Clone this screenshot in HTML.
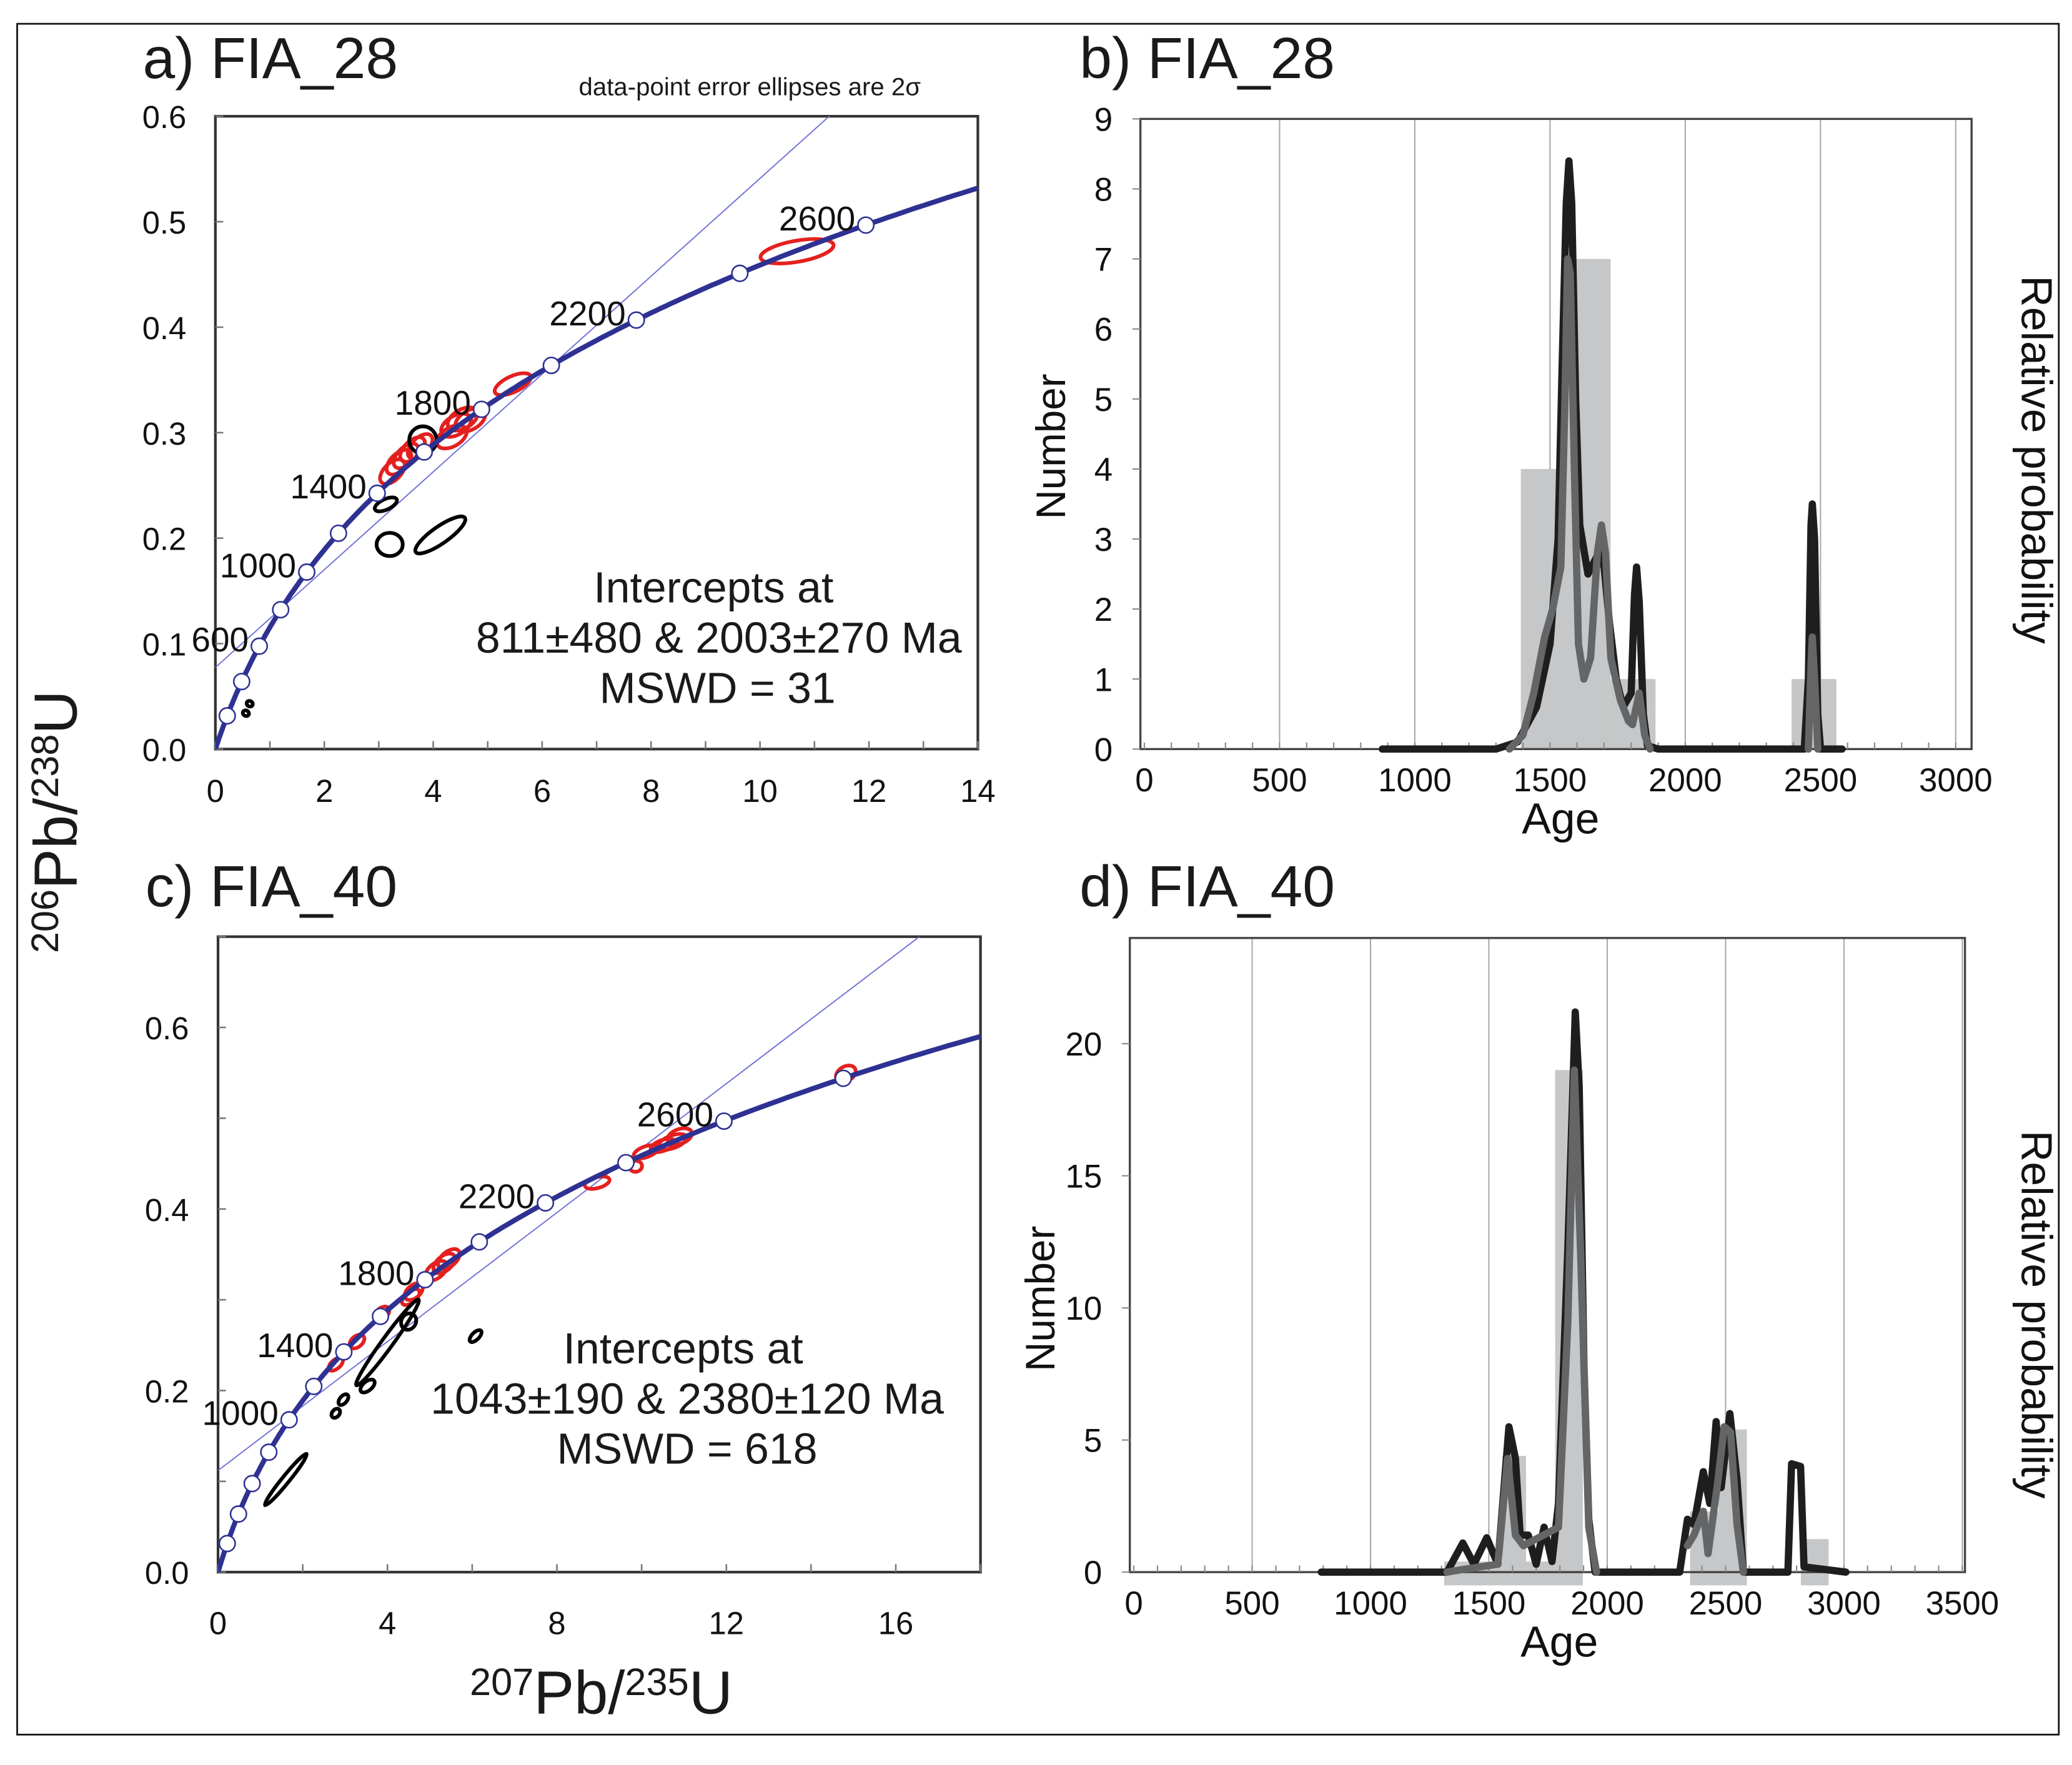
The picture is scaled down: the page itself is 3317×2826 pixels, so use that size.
<!DOCTYPE html>
<html><head><meta charset="utf-8">
<style>
html,body{margin:0;padding:0;background:#fff;}
svg{display:block;font-family:"Liberation Sans",sans-serif;}
</style></head>
<body>
<svg id="fig" xmlns="http://www.w3.org/2000/svg" width="3317" height="2826" viewBox="0 0 1568 1336" preserveAspectRatio="none">
<rect x="13" y="18" width="1545" height="1295" fill="#fff" stroke="#111" stroke-width="1.3"/>
<g id="layer"></g>
</svg>
<script>
// ---------- DATA ----------
const markerAgesA = [200,400,600,800,1000,1200,1400,1600,1800,2000,2200,2400,2600];
const markerAgesC = [200,400,600,800,1000,1200,1400,1600,1800,2000,2200,2400,2600,2800];
const labelAgesA = [600,1000,1400,1800,2200,2600];
const labelAgesC = [1000,1400,1800,2200,2600];
const interceptsA = [811,2003];
const interceptsC = [1043,2380];
const ellAx = [10.68,5.46,4.42,4.54,4.34,4.68,3.25,3.37,3.50,3.62,3.76,3.81,3.13,3.20,4.13,0.63,0.56];
const ellAy = [0.472,0.346,0.307,0.313,0.296,0.312,0.263,0.272,0.278,0.284,0.287,0.293,0.232,0.194,0.203,0.043,0.034];
const ellAex = [0.68,0.36,0.30,0.30,0.30,0.30,0.28,0.28,0.28,0.28,0.28,0.25,0.22,0.24,0.55,0.05,0.05];
const ellAey = [0.010,0.0075,0.009,0.009,0.009,0.009,0.008,0.008,0.008,0.008,0.008,0.013,0.005,0.011,0.008,0.003,0.003];
const ellArot = [-10,-25,-30,-30,-30,-30,-45,-45,-45,-45,-45,0,-25,0,-35,-60,-60];
const ellAcol = ['r','r','r','r','r','r','r','r','r','r','r','k','k','k','k','k','k'];
const ellCx = [14.82,10.73,10.9,10.5,10.1,9.86,8.95,5.34,5.45,5.15,4.62,4.55,3.87,3.28,2.78,4.0,4.5,3.53,2.96,2.78,6.08,1.6];
const ellCy = [0.549,0.474,0.48,0.47,0.463,0.447,0.429,0.34,0.345,0.332,0.309,0.303,0.285,0.254,0.229,0.253,0.276,0.205,0.19,0.175,0.26,0.102];
const ellCex = [0.25,0.35,0.3,0.3,0.3,0.15,0.3,0.3,0.3,0.3,0.25,0.25,0.2,0.2,0.2,1.25,0.2,0.2,0.15,0.12,0.18,0.78];
const ellCey = [0.008,0.007,0.008,0.006,0.006,0.006,0.006,0.008,0.008,0.008,0.007,0.006,0.006,0.006,0.005,0.006,0.008,0.005,0.004,0.004,0.004,0.004];
const ellCrot = [-30,-20,-20,-20,-20,-10,-15,-40,-40,-40,-40,-40,-40,-40,-40,-54,-60,-40,-50,-50,-45,-51];
const ellCcol = ['r','r','r','r','r','r','r','r','r','r','r','r','r','r','r','k','k','k','k','k','k','k'];
const binStartB = [1392,1558,1724,2393];
const binEndB = [1558,1724,1890,2559];
const countB = [4,7,1,1];
const blackAgeB = [880,1300,1380,1450,1500,1530,1545,1560,1570,1580,1595,1610,1640,1680,1700,1720,1745,1770,1800,1812,1820,1830,1845,1860,1900,2440,2455,2465,2470,2478,2490,2500,2580];
const blackValB = [0,0,0.1,0.6,1.5,3,5.5,7.8,8.4,7.8,5,3.2,2.5,2.8,2.6,1.8,1.0,0.6,0.8,2.2,2.6,2.1,0.5,0.05,0,0,1.0,3.2,3.5,3.0,0.5,0,0];
const grayAgeB = [1350,1400,1440,1480,1510,1540,1555,1565,1575,1590,1605,1625,1650,1675,1690,1705,1725,1760,1790,1805,1830,1850,1870];
const grayValB = [0,0.2,0.8,1.6,2.0,2.6,5,7.0,6.8,4,1.5,1.0,1.3,2.8,3.2,2.8,1.3,0.7,0.4,0.35,0.8,0.2,0];
const grayAgeB2 = [2455,2465,2470,2478,2490];
const grayValB2 = [0,1.2,1.6,1.0,0];
const binStartD = [1311,1434,1557,1657,1780,2350,2470,2818];
const binEndD = [1434,1557,1657,1780,1897,2470,2590,2935];
const countD = [0.4,0.4,4.4,0.4,19,2.3,5.4,1.25];
const blackAgeD = [792,1323,1390,1437,1491,1538,1585,1612,1632,1666,1700,1733,1767,1794,1834,1865,1882,1902,1922,1949,2306,2339,2366,2406,2433,2460,2481,2518,2548,2575,2763,2779,2817,2831,3008];
const blackValD = [0,0,1.1,0.3,1.3,0.3,5.5,4.3,1.4,1.4,0.3,1.7,0.4,2.6,12.3,21.2,18.3,7.8,2.0,0,0,2.0,1.8,3.8,2.6,5.7,3.2,6.0,3.5,0,0,4.1,4.0,0.2,0];
const grayAgeD = [1323,1390,1538,1579,1612,1646,1794,1834,1861,1888,1922,1955];
const grayValD = [0,0.1,0.3,4.3,1.4,1.0,1.7,9.5,19,12,1.7,0];
const grayAgeD2 = [2339,2366,2406,2426,2467,2494,2521,2548,2575];
const grayValD2 = [1.0,1.4,2.3,0.7,3.4,5.5,5.3,1.8,0];

// ---------- helpers ----------
const NS='http://www.w3.org/2000/svg';
const L=document.getElementById('layer');
function mk(tag,attrs,parent){const e=document.createElementNS(NS,tag);for(const k in attrs)e.setAttribute(k,attrs[k]);(parent||L).appendChild(e);return e;}
function txt(s,x,y,size,anchor,parent){const t=mk('text',{x:x,y:y,'font-size':size,'text-anchor':anchor||'start',fill:'#111'},parent);t.textContent=s;return t;}
const L238=1.55125e-10, L235=9.8485e-10;
function cx(t){return Math.exp(L235*t*1e6)-1;}
function cy(t){return Math.exp(L238*t*1e6)-1;}

function concordiaPanel(o){
  const g=mk('g',{});
  
  
  const X=v=>o.x0+(v-o.xmin)/(o.xmax-o.xmin)*(o.x1-o.x0);
  const Y=v=>o.y0-(v/o.ymax)*(o.y0-o.y1);
  const box=mk('rect',{x:o.x0,y:o.y1,width:o.x1-o.x0,height:o.y0-o.y1,fill:'none',stroke:'#333','stroke-width':2},g);
  
  
  for(let v=0;v<=o.xmax;v+=o.xminor){const t=mk('line',{x1:X(v),x2:X(v),y1:o.y0,y2:o.y0-6,stroke:'#777','stroke-width':1.2},g);
    }
  o.xlabels.forEach(v=>{const t=txt(String(v),X(v),o.y0+o.xlOff,24,'middle',g);});
  for(let v=0;v<=o.ymax+1e-9;v+=0.1){const t=mk('line',{x1:o.x0,x2:o.x0+6,y1:Y(v),y2:Y(v),stroke:'#777','stroke-width':1.2},g);
    }
  o.ylabels.forEach(v=>{const t=txt(v.toFixed(1),o.x0-22,Y(v)+9,24,'end',g);});
  const cid='clip'+o.name;
  const cp=mk('clipPath',{id:cid},g);mk('rect',{x:o.x0,y:o.y1,width:o.x1-o.x0,height:o.y0-o.y1},cp);
  const inner=mk('g',{'clip-path':'url(#'+cid+')'},g);
  const ta=o.inter[0],tb=o.inter[1];
  const s=(cy(tb)-cy(ta))/(cx(tb)-cx(ta));
  const y0d=cy(ta)-s*cx(ta);
  const dl=mk('line',{x1:X(0),y1:Y(y0d),x2:X(o.xmax),y2:Y(y0d+s*o.xmax),stroke:'#6f6fd8','stroke-width':0.9},inner);
  
  for(let i=0;i<o.ex.length;i++){
    const rx=o.eex[i]*(o.x1-o.x0)/(o.xmax-o.xmin), ry=Math.max(o.eey[i]*(o.y0-o.y1)/o.ymax,1.5);
    const red=o.ecol[i]==='r';
    const e=mk('ellipse',{cx:X(o.ex[i]),cy:Y(o.ey[i]),rx:rx,ry:ry,fill:'none',stroke:red?'#e4201f':'#000','stroke-width':2.8,transform:`rotate(${o.erot[i]} ${X(o.ex[i])} ${Y(o.ey[i])})`},inner);
    
    
  }
  let d='';for(let t=0;t<=3100;t+=10){const px=X(cx(t)),py=Y(cy(t));d+=(t?'L':'M')+px.toFixed(1)+' '+py.toFixed(1);}
  const c=mk('path',{d:d,fill:'none',stroke:'#2e3192','stroke-width':3.8},inner);
  
  o.markers.forEach(t=>{const m=mk('circle',{cx:X(cx(t)),cy:Y(cy(t)),r:6,fill:'#fff',stroke:'#2e3192','stroke-width':1.2},inner);
    });
  o.labels.forEach(t=>{const l=txt(String(t),X(cx(t))-8,Y(cy(t))+4,26,'end',g);});
  return g;
}

concordiaPanel({name:'concordia-panel-a',x0:163,x1:740,y0:567,y1:88,xmin:0,xmax:14,ymax:0.6,xminor:1,xlOff:40,xlabels:[0,2,4,6,8,10,12,14],ylabels:[0,0.1,0.2,0.3,0.4,0.5,0.6],
  inter:interceptsA,ex:ellAx,ey:ellAy,eex:ellAex,eey:ellAey,erot:ellArot,ecol:ellAcol,markers:markerAgesA,labels:labelAgesA});
concordiaPanel({name:'concordia-panel-c',x0:165,x1:742,y0:1190,y1:709,xmin:0,xmax:18,ymax:0.7,xminor:2,xlOff:47,xlabels:[0,4,8,12,16],ylabels:[0,0.2,0.4,0.6],
  inter:interceptsC,ex:ellCx,ey:ellCy,eex:ellCex,eey:ellCey,erot:ellCrot,ecol:ellCcol,markers:markerAgesC,labels:labelAgesC});

function histPanel(o){
  const g=mk('g',{});
  
  
  const X=v=>o.x0+v/o.xmax*(o.xe-o.x0);
  const Y=v=>o.y0-v/o.ymax*(o.y0-o.y1);
  for(let v=500;v<=o.gridMax;v+=500){const l=mk('line',{x1:X(v),x2:X(v),y1:o.y1,y2:o.y0,stroke:'#aaa','stroke-width':1},g);
    }
  for(let i=0;i<o.bs.length;i++){
    const b=mk('rect',{x:X(o.bs[i]),y:Y(o.cnt[i]),width:X(o.be[i])-X(o.bs[i]),height:Y(-o.below)-Y(o.cnt[i]),fill:'#c6c7c8'},g);
    
  }
  const box=mk('rect',{x:o.x0-3,y:o.y1,width:o.xr-o.x0+3,height:o.y0-o.y1,fill:'none',stroke:'#444','stroke-width':1.6},g);
  
  for(let v=0;v<=o.gridMax;v+=100){const t=mk('line',{x1:X(v),x2:X(v),y1:o.y0,y2:o.y0-5,stroke:'#888','stroke-width':1},g);
    }
  o.xlabels.forEach(v=>{const t=txt(String(v),X(v),o.y0+32,25,'middle',g);});
  o.ylabels.forEach(v=>{const t=txt(String(v),o.x0-24,Y(v)+9,25,'end',g);
    const k=mk('line',{x1:o.x0-3,x2:o.x0-9,y1:Y(v),y2:Y(v),stroke:'#888'},g);});
  function line(ax,vals,col,nm){let d='';ax.forEach((a,i)=>{d+=(i?'L':'M')+X(a).toFixed(1)+' '+Y(vals[i]).toFixed(1);});
    const p=mk('path',{d:d,fill:'none',stroke:col,'stroke-width':5.5,'stroke-linejoin':'round','stroke-linecap':'round'},g);
    }
  line(o.bA,o.bV,'#1e1e1e','probability-curve-black');
  o.gr.forEach(s=>line(s[0],s[1],'#646567','probability-curve-gray'));
  const a=txt('Age',o.ageX,o.y0+64,33,'middle',g);
  const n=txt('Number',0,0,31,'middle',g);n.setAttribute('transform',`translate(${o.x0-60},${o.numY}) rotate(-90)`);
  
  const r=txt('Relative probability',0,0,33,'middle',g);r.setAttribute('transform',`translate(${o.rpX},${o.rpY}) rotate(90)`);
  
}
histPanel({name:'age-histogram-b',x0:866,xe:1480,xr:1492,xmax:3000,y0:567,y1:90,ymax:9,gridMax:3000,below:0,ageX:1181,numY:338,
  bs:binStartB,be:binEndB,cnt:countB,xlabels:[0,500,1000,1500,2000,2500,3000],ylabels:[0,1,2,3,4,5,6,7,8,9],
  bA:blackAgeB,bV:blackValB,gr:[[grayAgeB,grayValB],[grayAgeB2,grayValB2]],rpX:1530,rpY:348});
histPanel({name:'age-histogram-d',x0:858,xe:1485,xr:1487,xmax:3500,y0:1190,y1:710,ymax:24,gridMax:3500,below:0.5,ageX:1180,numY:983,
  bs:binStartD,be:binEndD,cnt:countD,xlabels:[0,500,1000,1500,2000,2500,3000,3500],ylabels:[0,5,10,15,20],
  bA:blackAgeD,bV:blackValD,gr:[[grayAgeD,grayValD],[grayAgeD2,grayValD2]],rpX:1530,rpY:995});
</script>
<svg style="position:absolute;left:0;top:0" width="3317" height="2826" viewBox="0 0 1568 1336" preserveAspectRatio="none">
<g font-family="Liberation Sans, sans-serif" fill="#1a1a1a">
<text x="108" y="59" font-size="44">a) FIA_28</text>
<text x="817" y="59" font-size="44">b) FIA_28</text>
<text x="110" y="686" font-size="44">c) FIA_40</text>
<text x="817" y="686" font-size="44">d) FIA_40</text>
<text x="438" y="72" font-size="19">data-point error ellipses are 2σ</text>
<text x="540" y="456" font-size="33" text-anchor="middle">Intercepts at</text>
<text x="544" y="494" font-size="33" text-anchor="middle">811±480 &amp; 2003±270 Ma</text>
<text x="543" y="532" font-size="33" text-anchor="middle">MSWD = 31</text>
<text x="517" y="1032" font-size="33" text-anchor="middle">Intercepts at</text>
<text x="520" y="1070" font-size="33" text-anchor="middle">1043±190 &amp; 2380±120 Ma</text>
<text x="520" y="1108" font-size="33" text-anchor="middle">MSWD = 618</text>
<text transform="translate(58,622) rotate(-90)" font-size="46" text-anchor="middle"><tspan font-size="29" dy="-14">206</tspan><tspan dy="14">Pb/</tspan><tspan font-size="29" dy="-14">238</tspan><tspan dy="14">U</tspan></text>
<text x="455" y="1297" font-size="46" text-anchor="middle"><tspan font-size="29" dy="-14">207</tspan><tspan dy="14">Pb/</tspan><tspan font-size="29" dy="-14">235</tspan><tspan dy="14">U</tspan></text>
</g>
</svg>
</body></html>
